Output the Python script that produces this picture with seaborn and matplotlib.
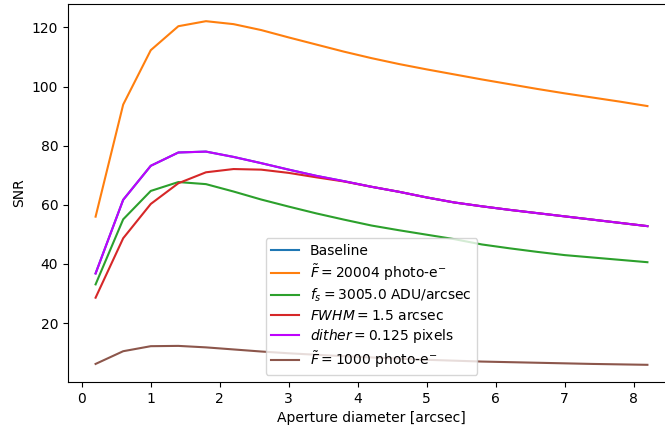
import matplotlib
matplotlib.use("Agg")
import matplotlib.pyplot as plt
import numpy as np
import pandas as pd
import seaborn as sns

# Aperture diameters [arcsec]
aperture = [0.2, 0.6, 1.0, 1.4, 1.8, 2.2, 2.6, 3.0, 3.4, 3.8, 4.2,
            4.6, 5.0, 5.4, 5.8, 6.2, 6.6, 7.0, 7.4, 7.8, 8.2]

# SNR curves for each configuration
snr_baseline = [36.8, 61.7, 73.2, 77.7, 78.0, 76.2, 74.1, 71.9, 69.8, 68.0, 66.1,
                64.4, 62.5, 60.8, 59.5, 58.3, 57.2, 56.1, 55.0, 53.9, 52.8]
snr_flux_high = [56.0, 93.9, 112.3, 120.4, 122.1, 121.1, 119.1, 116.6, 114.2, 111.8, 109.6,
                 107.6, 105.8, 104.1, 102.4, 100.8, 99.2, 97.7, 96.3, 94.9, 93.4]
snr_sky = [33.1, 55.1, 64.7, 67.7, 67.0, 64.5, 61.8, 59.4, 57.1, 55.0, 53.0,
           51.4, 49.9, 48.4, 46.6, 45.3, 44.1, 43.0, 42.2, 41.4, 40.6]
snr_fwhm = [28.6, 48.7, 60.3, 67.3, 71.0, 72.1, 71.9, 70.8, 69.3, 67.9, 66.1,
            64.4, 62.5, 60.8, 59.5, 58.3, 57.2, 56.1, 55.0, 53.9, 52.8]
snr_dither = [36.8, 61.7, 73.2, 77.7, 78.0, 76.2, 74.1, 71.9, 69.8, 68.0, 66.1,
              64.4, 62.5, 60.8, 59.5, 58.3, 57.2, 56.1, 55.0, 53.9, 52.8]
snr_flux_low = [6.2, 10.5, 12.2, 12.3, 11.8, 11.1, 10.4, 9.8, 9.3, 8.8, 8.4,
                8.0, 7.6, 7.3, 7.0, 6.8, 6.6, 6.4, 6.2, 6.05, 5.9]

labels = [
    "Baseline",
    r"$\tilde{F} = 20004$ photo-e$^{-}$",
    r"$f_s = 3005.0$ ADU/arcsec",
    r"$FWHM = 1.5$ arcsec",
    r"$dither = 0.125$ pixels",
    r"$\tilde{F} = 1000$ photo-e$^{-}$",
]
series = [snr_baseline, snr_flux_high, snr_sky, snr_fwhm, snr_dither, snr_flux_low]
colors = ["#1f77b4", "#ff7f0e", "#2ca02c", "#d62728", "#be03fd", "#8c564b"]

df = pd.concat(
    [pd.DataFrame({"aperture": aperture, "snr": s, "config": lab})
     for lab, s in zip(labels, series)],
    ignore_index=True,
)

fig = plt.figure(figsize=(6.65, 4.28), dpi=100)
ax = fig.add_axes([68 / 665, 46 / 428, (675 - 68) / 665, (382 - 4) / 428])

sns.lineplot(data=df, x="aperture", y="snr", hue="config", hue_order=labels,
             palette=dict(zip(labels, colors)), linewidth=1.5, ax=ax)

ax.set_xlabel("Aperture diameter [arcsec]")
ax.set_ylabel("SNR")

handles, labs = ax.get_legend_handles_labels()
ax.legend(handles, labs, loc="lower center", labelspacing=0.3)

fig.savefig("out.png", dpi=100)
